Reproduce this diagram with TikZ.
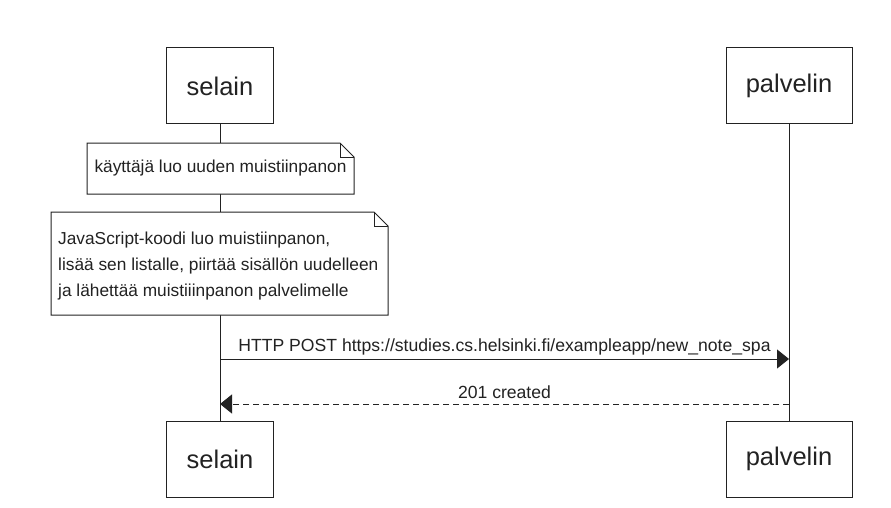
\documentclass[tikz,border=0pt]{standalone}
\usepackage{fontspec}
\setmainfont{Liberation Sans}
\usetikzlibrary{arrows.meta}
\definecolor{ink}{HTML}{222222}
\begin{document}
\begin{tikzpicture}[x=1pt,y=-1pt,
  actor/.style={draw=ink,line width=1pt,fill=white,inner sep=0pt,text=ink,font=\fontsize{25.5}{30}\selectfont},
  notetxt/.style={text=ink,font=\fontsize{17.3}{26}\selectfont,inner sep=0pt},
  lifeline/.style={draw=ink,line width=1pt},
  msg/.style={draw=ink,line width=1pt,-{Triangle[length=12pt,width=19pt]}},
  reply/.style={msg,dash pattern=on 6pt off 4pt},
  lbl/.style={text=ink,font=\fontsize{17.6}{20}\selectfont,inner sep=0pt}]
\useasboundingbox[fill=white] (0,0) rectangle (891,508);
% actors
\node[actor,minimum width=107pt,minimum height=76pt] (s1) at (220,86) {selain};
\node[actor,minimum width=126pt,minimum height=76pt] (p1) at (789,86) {palvelin};
\node[actor,minimum width=107pt,minimum height=76pt] (s2) at (220,459) {selain};
\node[actor,minimum width=126pt,minimum height=76pt] (p2) at (789,459) {palvelin};
% lifelines
\draw[lifeline] (s1.south) -- (s2.north);
\draw[lifeline] (p1.south) -- (p2.north);
% note 1
\filldraw[draw=ink,fill=white,line width=1pt] (87,143) -- (340,143) -- (354,157) -- (354,194) -- (87,194) -- cycle;
\draw[draw=ink,line width=1pt] (340,143) -- (340,157) -- (354,157);
\node[notetxt] (n1) at (220.5,168.5) {käyttäjä luo uuden muistiinpanon};
% note 2
\filldraw[draw=ink,fill=white,line width=1pt] (51,212) -- (374,212) -- (388,226) -- (388,315) -- (51,315) -- cycle;
\draw[draw=ink,line width=1pt] (374,212) -- (374,226) -- (388,226);
\node[notetxt,anchor=west,align=left] (n2) at (58,266) {JavaScript-koodi luo muistiinpanon,\\lisää sen listalle, piirtää sisällön uudelleen\\ja lähettää muistiiinpanon palvelimelle};
% messages
\coordinate (a1) at (220,359);
\coordinate (b1) at (789,359);
\coordinate (a2) at (789,404);
\coordinate (b2) at (220,404);
\draw[msg] (a1) -- (b1) node[lbl,midway,above=3pt] (m1) {HTTP POST https://studies.cs.helsinki.fi/exampleapp/new\_note\_spa};
\draw[reply] (a2) -- (b2) node[lbl,midway,above=5pt] (m2) {201 created};
\end{tikzpicture}
\end{document}
